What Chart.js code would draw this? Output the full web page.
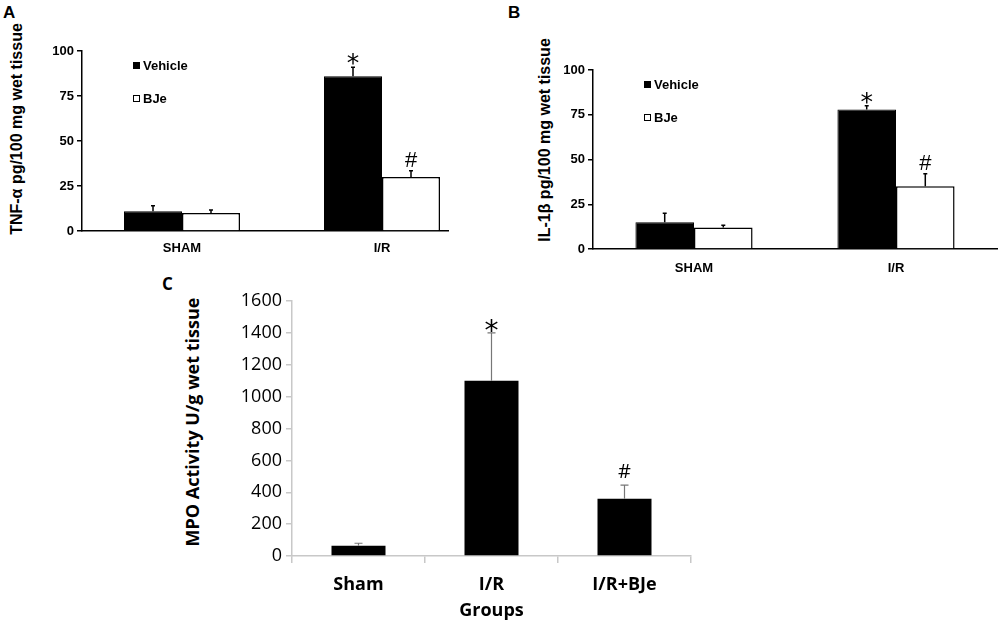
<!DOCTYPE html>
<html>
<head>
<meta charset="utf-8">
<script src="https://cdn.jsdelivr.net/npm/chart.js@4.4.1/dist/chart.umd.min.js"></script>
<style>
  body { margin: 0; width: 1000px; height: 629px; background: #fff; position: relative; overflow: hidden; }
  canvas, .clip { position: absolute; }
  .letra { position: absolute; font-weight: bold; color: #000; }
  .titulo-y { position: absolute; white-space: nowrap; font-weight: bold; color: #000;
              transform: translate(-50%, -50%) rotate(-90deg); }
</style>
</head>
<body>
<div class="letra" style="left:3px;top:3px;font:bold 17px 'Liberation Sans'">A</div>
<div class="letra" style="left:508px;top:3px;font:bold 17px 'Liberation Sans'">B</div>
<div class="letra" style="left:162px;top:272px;font:bold 17px 'Open Sans'">C</div>

<div class="titulo-y" style="left:17px;top:129px;font:bold 16px 'Liberation Sans'">TNF-α pg/100 mg wet tissue</div>
<div class="titulo-y" style="left:545px;top:140px;font:bold 16px 'Liberation Sans'">IL-1β pg/100 mg wet tissue</div>
<div class="titulo-y" style="left:192px;top:422px;font:bold 18px 'Open Sans'">MPO Activity U/g wet tissue</div>

<div class="clip" style="left:0;top:0;width:449px;height:265px;overflow:hidden">
  <canvas id="chartTnf" width="520" height="265" style="left:0;top:0"></canvas>
</div>
<canvas id="chartIl1" width="520" height="275" style="left:480px;top:0"></canvas>
<canvas id="chartMpo" width="560" height="364" style="left:150px;top:265px"></canvas>

<script>
// valores
const gruposCitocina = ["SHAM", "I/R"];
const tnfVeiculo = [11, 86];
const tnfVeiculoErro = [3, 5];
const tnfBje = [10, 30];
const tnfBjeErro = [1.7, 3.5];
const il1Veiculo = [15, 78];
const il1VeiculoErro = [5, 2];
const il1Bje = [12, 35];
const il1BjeErro = [1.3, 7];
const marcasVeiculo = ["", "*"];
const marcasBje = ["", "#"];

const gruposMpo = ["Sham", "I/R", "I/R+BJe"];
const mpoValores = [65, 1100, 360];
const mpoErro = [15, 300, 85];
const marcasMpo = ["", "*", "#"];

const fonteArial = { family: "Liberation Sans", weight: "bold", size: 13 };

// barras de erro (só para cima) e símbolos de significância
const barrasErro = {
  id: "barrasErro",
  afterDatasetsDraw(chart, args, opts) {
    const { ctx } = chart;
    const y = chart.scales.y;
    chart.data.datasets.forEach((ds, i) => {
      chart.getDatasetMeta(i).data.forEach((bar, j) => {
        const topo = y.getPixelForValue(ds.data[j] + ds.erros[j]);
        ctx.save();
        ctx.strokeStyle = opts.cor;
        ctx.lineWidth = opts.largura;
        ctx.beginPath();
        ctx.moveTo(bar.x, bar.y);
        ctx.lineTo(bar.x, topo);
        ctx.moveTo(bar.x - opts.tampa, topo);
        ctx.lineTo(bar.x + opts.tampa, topo);
        ctx.stroke();
        const marca = ds.marcas[j];
        if (marca) {
          const asterisco = marca === "*";
          ctx.fillStyle = "#000";
          ctx.font = asterisco ? opts.fonteAsterisco : opts.fonteCerquilha;
          ctx.textAlign = "center";
          ctx.textBaseline = "alphabetic";
          const m = ctx.measureText(marca);
          const folga = asterisco ? opts.folgaAsterisco : opts.folgaCerquilha;
          ctx.fillText(marca, bar.x, topo - folga - m.actualBoundingBoxDescent);
        }
        ctx.restore();
      });
    });
  }
};

// legenda com quadradinhos dentro da área do gráfico
const legendaQuadro = {
  id: "legendaQuadro",
  afterDraw(chart) {
    const { ctx, chartArea } = chart;
    chart.data.datasets.forEach((ds, i) => {
      const x = chartArea.left + 51;
      const y = chartArea.top + 11 + i * 33;
      ctx.save();
      ctx.fillStyle = ds.backgroundColor;
      ctx.fillRect(x, y, 7, 7);
      ctx.strokeStyle = "#000";
      ctx.lineWidth = 1;
      ctx.strokeRect(x + 0.5, y + 0.5, 6, 6);
      ctx.fillStyle = "#000";
      ctx.font = 'bold 13px "Liberation Sans"';
      ctx.textBaseline = "middle";
      ctx.fillText(ds.label, x + 10, y + 4);
      ctx.restore();
    });
  }
};

function graficoCitocina(id, veiculo, veiculoErro, bje, bjeErro, larguraY, alturaX, padX, padding) {
  return new Chart(document.getElementById(id), {
    type: "bar",
    data: {
      labels: gruposCitocina,
      datasets: [
        { label: "Vehicle", data: veiculo, erros: veiculoErro, marcas: marcasVeiculo,
          backgroundColor: "#000", borderColor: "#000", borderWidth: 1 },
        { label: "BJe", data: bje, erros: bjeErro, marcas: marcasBje,
          backgroundColor: "#fff", borderColor: "#000", borderWidth: 1.5 }
      ]
    },
    options: {
      responsive: false,
      animation: false,
      layout: { padding },
      datasets: { bar: { categoryPercentage: 0.58, barPercentage: 1 } },
      plugins: {
        legend: { display: false },
        tooltip: { enabled: false },
        barrasErro: { cor: "#000", largura: 1.5, tampa: 2,
          fonteAsterisco: '25px "DejaVu Sans"', folgaAsterisco: 2,
          fonteCerquilha: '22px "Liberation Sans"', folgaCerquilha: 4 }
      },
      scales: {
        x: {
          grid: { display: false, drawTicks: false },
          border: { color: "#000", width: 1.5 },
          ticks: { color: "#000", font: fonteArial, padding: padX },
          afterFit: s => { s.height = alturaX; }
        },
        y: {
          min: 0, max: 100,
          ticks: { stepSize: 25, color: "#000", font: fonteArial, padding: 3 },
          grid: { drawOnChartArea: false, tickLength: 5, color: "#000", lineWidth: 1.5 },
          border: { color: "#000", width: 1.5 },
          afterFit: s => { s.width = larguraY; }
        }
      }
    },
    plugins: [barrasErro, legendaQuadro]
  });
}

graficoCitocina("chartTnf", tnfVeiculo, tnfVeiculoErro, tnfBje, tnfBjeErro, 82, 34, 10,
  { left: 0, top: 51, right: 38, bottom: 0 });
graficoCitocina("chartIl1", il1Veiculo, il1VeiculoErro, il1Bje, il1BjeErro, 113, 26, 12,
  { left: 0, top: 70, right: 3, bottom: 0 });

new Chart(document.getElementById("chartMpo"), {
  type: "bar",
  data: {
    labels: gruposMpo,
    datasets: [{ data: mpoValores, erros: mpoErro, marcas: marcasMpo,
      backgroundColor: "#000", borderWidth: 0 }]
  },
  options: {
    responsive: false,
    animation: false,
    layout: { padding: { left: 0, top: 36, right: 19, bottom: 0 } },
    datasets: { bar: { categoryPercentage: 1, barPercentage: 0.406 } },
    plugins: {
      legend: { display: false },
      tooltip: { enabled: false },
      barrasErro: { cor: "#777", largura: 1.2, tampa: 4,
        fonteAsterisco: '28px "DejaVu Sans"', folgaAsterisco: 0,
        fonteCerquilha: '20px "Open Sans"', folgaCerquilha: 7 }
    },
    scales: {
      x: {
        grid: { drawOnChartArea: false, tickLength: 7, color: "#c8c8c8", lineWidth: 1.5 },
        border: { color: "#c8c8c8", width: 1.5 },
        ticks: { color: "#000", font: { family: "Open Sans", weight: "bold", size: 18 }, padding: 11 },
        title: { display: true, text: "Groups", color: "#000",
          font: { family: "Open Sans", weight: "bold", size: 18 }, padding: { top: 0, bottom: 7 } },
        afterFit: s => { s.height = 73; }
      },
      y: {
        min: 0, max: 1600,
        ticks: { stepSize: 200, color: "#000", font: { family: "Open Sans", size: 18 }, padding: 4,
          callback: v => String(v) },
        grid: { drawOnChartArea: false, tickLength: 6, color: "#c8c8c8", lineWidth: 1.5 },
        border: { color: "#c8c8c8", width: 1.5 },
        afterFit: s => { s.width = 142; }
      }
    }
  },
  plugins: [barrasErro]
});
</script>
</body>
</html>
